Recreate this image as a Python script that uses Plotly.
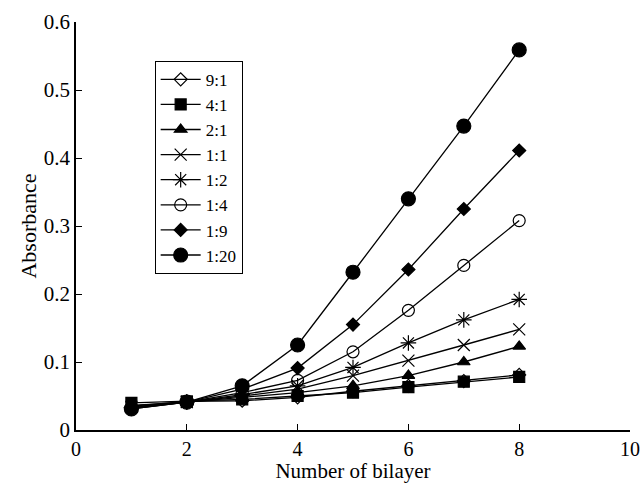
import plotly.graph_objects as go

bilayers = [1, 2, 3, 4, 5, 6, 7, 8]
series_names = ["9:1", "4:1", "2:1", "1:1", "1:2", "1:4", "1:9", "1:20"]
abs_9_1 = [0.035, 0.042, 0.043, 0.048, 0.057, 0.065, 0.072, 0.081]
abs_4_1 = [0.040, 0.042, 0.045, 0.050, 0.055, 0.063, 0.071, 0.078]
abs_2_1 = [0.036, 0.041, 0.048, 0.055, 0.065, 0.080, 0.100, 0.123]
abs_1_1 = [0.034, 0.041, 0.050, 0.060, 0.080, 0.102, 0.125, 0.148]
abs_1_2 = [0.033, 0.041, 0.052, 0.065, 0.092, 0.128, 0.162, 0.192]
abs_1_4 = [0.032, 0.041, 0.055, 0.073, 0.115, 0.176, 0.242, 0.308]
abs_1_9 = [0.031, 0.041, 0.060, 0.091, 0.155, 0.236, 0.325, 0.411]
abs_1_20 = [0.031, 0.041, 0.065, 0.125, 0.232, 0.340, 0.447, 0.559]

values = [abs_9_1, abs_4_1, abs_2_1, abs_1_1, abs_1_2, abs_1_4, abs_1_9, abs_1_20]
symbols = ["diamond-open", "square", "triangle-up", "x-thin-open", "asterisk-open",
           "circle-open", "diamond", "circle"]
sizes = [10, 11, 11, 12, 13, 12, 10, 14]

fam = "Liberation Serif, Times New Roman, serif"

fig = go.Figure()
for name, ys, sym, sz in zip(series_names, values, symbols, sizes):
    fig.add_trace(go.Scatter(
        x=bilayers, y=ys, name=name, mode="lines+markers",
        line=dict(color="black", width=1.3),
        marker=dict(symbol=sym, size=sz, color="black",
                    line=dict(color="black", width=1.2)),
    ))

fig.update_layout(
    width=643, height=483,
    margin=dict(l=76, r=13, t=22, b=53, autoexpand=False),
    paper_bgcolor="white", plot_bgcolor="white",
    font=dict(family=fam, size=20, color="black"),
    showlegend=True,
    legend=dict(x=0.142, y=0.905, xanchor="left", yanchor="top",
                bordercolor="black", borderwidth=1, bgcolor="white",
                font=dict(family=fam, size=17),
                itemwidth=40, tracegroupgap=0),
    xaxis=dict(range=[0, 10], tickvals=[0, 2, 4, 6, 8, 10], showgrid=False, zeroline=False,
               showline=True, linecolor="black", linewidth=1.5,
               ticks="inside", ticklen=6, tickcolor="black", automargin=False,
               tickfont=dict(family=fam, size=20),
               title=dict(text="Number of bilayer", standoff=4, font=dict(family=fam, size=21))),
    yaxis=dict(range=[0, 0.6], tickvals=[0, 0.1, 0.2, 0.3, 0.4, 0.5, 0.6],
               ticktext=["0", "0.1", "0.2", "0.3", "0.4", "0.5", "0.6"],
               showgrid=False, zeroline=False, automargin=False,
               showline=True, linecolor="black", linewidth=1.5,
               ticks="inside", ticklen=6, tickcolor="black",
               tickfont=dict(family=fam, size=21),
               title=dict(text="Absorbance", standoff=1, font=dict(family=fam, size=22))),
)

fig.write_html("out.html")
